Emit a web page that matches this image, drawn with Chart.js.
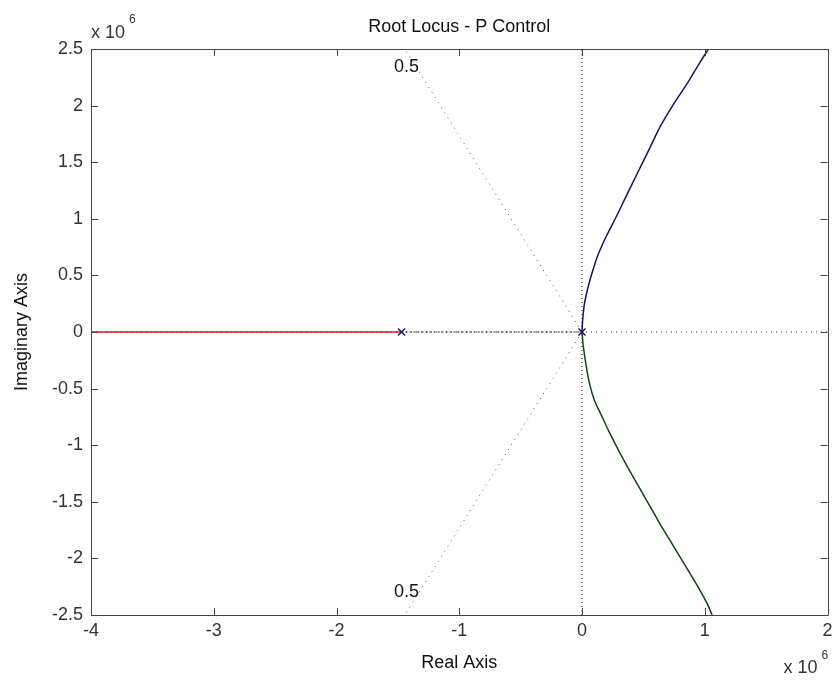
<!DOCTYPE html>
<html><head><meta charset="utf-8">
<script src="https://cdn.jsdelivr.net/npm/chart.js@4/dist/chart.umd.min.js"></script>
<style>html,body{margin:0;padding:0;background:#fff}#wrap{width:834px;height:681px}</style>
</head><body><div id="wrap"><canvas id="c" width="834" height="681"></canvas></div>
<script>
// All values in units of 10^6
const titleText = 'Root Locus - P Control';
const xAxisLabel = 'Real Axis';
const yAxisLabel = 'Imaginary Axis';
const exponent = '6';
const xTicks = [-4, -3, -2, -1, 0, 1, 2];
const yTicks = [-2.5, -2, -1.5, -1, -0.5, 0, 0.5, 1, 1.5, 2, 2.5];

const upperRe = [0, 0.005, 0.02, 0.05, 0.09, 0.13, 0.2, 0.28, 0.36, 0.45, 0.55, 0.64, 0.75, 0.86, 0.96, 1.03];
const upperIm = [0, 0.1, 0.25, 0.4, 0.55, 0.68, 0.85, 1.02, 1.2, 1.4, 1.62, 1.82, 2.02, 2.2, 2.38, 2.5];
const lowerRe = [0, 0.01, 0.03, 0.06, 0.1, 0.16, 0.22, 0.3, 0.39, 0.48, 0.57, 0.66, 0.75, 0.85, 0.95, 1.02, 1.06];
const lowerIm = [0, -0.12, -0.27, -0.45, -0.6, -0.74, -0.88, -1.05, -1.23, -1.4, -1.57, -1.74, -1.9, -2.08, -2.26, -2.4, -2.5];
const realBranchRe = [-4, -1.47];
const realBranchIm = [0, 0];
const poleRe = [-1.47, 0];
const poleIm = [0, 0];

const zetaLabel = '0.5';
const zetaUpRe = [0, -1.443];
const zetaUpIm = [0, 2.5];
const zetaDnRe = [0, -1.443];
const zetaDnIm = [0, -2.5];
const zetaLabelRe = [-1.43, -1.43];
const zetaLabelIm = [2.34, -2.30];

const pts = (xs, ys) => xs.map((x, i) => ({x, y: ys[i]}));
const FONT = 'Liberation Sans, Arial, sans-serif';
const FS = 18;

const framePlugin = {
  id: 'frame',
  afterDatasetsDraw(chart) {
    const {ctx, chartArea: a, scales: {x, y}} = chart;
    ctx.save();
    ctx.strokeStyle = '#444';
    ctx.lineWidth = 1;
    ctx.beginPath();
    ctx.rect(Math.round(a.left) + 0.5, Math.round(a.top) + 0.5, Math.round(a.right - a.left), Math.round(a.bottom - a.top));
    ctx.stroke();
    const tl = 7;
    ctx.beginPath();
    xTicks.forEach(v => {
      const px = Math.round(x.getPixelForValue(v)) + 0.5;
      ctx.moveTo(px, a.bottom); ctx.lineTo(px, a.bottom - tl);
      ctx.moveTo(px, a.top); ctx.lineTo(px, a.top + tl);
    });
    yTicks.forEach(v => {
      const py = Math.round(y.getPixelForValue(v)) + 0.5;
      ctx.moveTo(a.left, py); ctx.lineTo(a.left + tl, py);
      ctx.moveTo(a.right, py); ctx.lineTo(a.right - tl, py);
    });
    ctx.stroke();
    // zeta labels
    ctx.fillStyle = '#111';
    ctx.font = FS + 'px ' + FONT;
    ctx.textAlign = 'center';
    ctx.textBaseline = 'middle';
    zetaLabelRe.forEach((v, i) => ctx.fillText(zetaLabel, x.getPixelForValue(v), y.getPixelForValue(zetaLabelIm[i])));
    // title
    ctx.fillText(titleText, (a.left + a.right) / 2, 27);
    // exponent labels
    ctx.fillStyle = '#333';
    ctx.textAlign = 'left';
    ctx.textBaseline = 'middle';
    ctx.fillText('x 10', a.left, 33);
    ctx.font = '12px ' + FONT;
    ctx.fillText(exponent, a.left + 38, 20);
    ctx.font = FS + 'px ' + FONT;
    ctx.fillText('x 10', a.right - 44, 668);
    ctx.font = '12px ' + FONT;
    ctx.fillText(exponent, a.right - 6, 656);
    ctx.restore();
  }
};

new Chart(document.getElementById('c'), {
  type: 'scatter',
  data: {
    datasets: [
      {data: pts(poleRe, poleIm), showLine: false, pointStyle: 'crossRot', pointRadius: 5, borderColor: '#1a1a70', borderWidth: 1.5, backgroundColor: '#1a1a70'},
      {data: pts(upperRe, upperIm), showLine: true, borderColor: '#14145e', borderWidth: 1.5, pointRadius: 0, tension: 0.3},
      {data: pts(lowerRe, lowerIm), showLine: true, borderColor: '#0b4a0b', borderWidth: 1.5, pointRadius: 0, tension: 0.3},
      {data: pts(realBranchRe, realBranchIm), showLine: true, borderColor: '#d01818', borderWidth: 1.5, pointRadius: 0},
      {data: pts([-1.47, 0], [0, 0]), showLine: true, borderColor: '#222', borderWidth: 1, borderDash: [2, 2], pointRadius: 0},
      {data: pts([-4, 2], [0, 0]), showLine: true, borderColor: '#333', borderWidth: 1, borderDash: [1, 4], pointRadius: 0},
      {data: pts([0, 0], [-2.5, 2.5]), showLine: true, borderColor: '#222', borderWidth: 1, borderDash: [1, 3], pointRadius: 0},
      {data: pts(zetaUpRe, zetaUpIm), showLine: true, borderColor: '#555', borderWidth: 1, borderDash: [1, 5], pointRadius: 0},
      {data: pts(zetaDnRe, zetaDnIm), showLine: true, borderColor: '#555', borderWidth: 1, borderDash: [1, 5], pointRadius: 0}
    ]
  },
  options: {
    responsive: false,
    animation: false,
    layout: {padding: {top: 49, right: 3, left: 0, bottom: 0}},
    plugins: {legend: {display: false}, tooltip: {enabled: false}, title: {display: false}},
    scales: {
      x: {
        type: 'linear', min: -4, max: 2,
        afterBuildTicks: s => { s.ticks = xTicks.map(v => ({value: v})); },
        afterFit: s => { s.height = 66; s.paddingLeft = 0; s.paddingRight = 0; },
        grid: {display: false, drawTicks: false},
        border: {display: false},
        ticks: {padding: 5, color: '#333', font: {family: FONT, size: FS}, maxRotation: 0, autoSkip: false, callback: v => String(v)},
        title: {display: true, text: xAxisLabel, color: '#111', font: {family: FONT, size: FS}, padding: {top: 0, bottom: 7}}
      },
      y: {
        type: 'linear', min: -2.5, max: 2.5,
        afterBuildTicks: s => { s.ticks = yTicks.map(v => ({value: v})); },
        afterFit: s => { s.width = 91; s.paddingTop = 0; s.paddingBottom = 0; },
        grid: {display: false, drawTicks: false},
        border: {display: false},
        ticks: {padding: 8, color: '#333', font: {family: FONT, size: FS}, autoSkip: false, callback: v => String(v)},
        title: {display: true, text: yAxisLabel, color: '#111', font: {family: FONT, size: FS}, padding: {top: 11, bottom: 0}}
      }
    }
  },
  plugins: [framePlugin]
});
</script></body></html>
